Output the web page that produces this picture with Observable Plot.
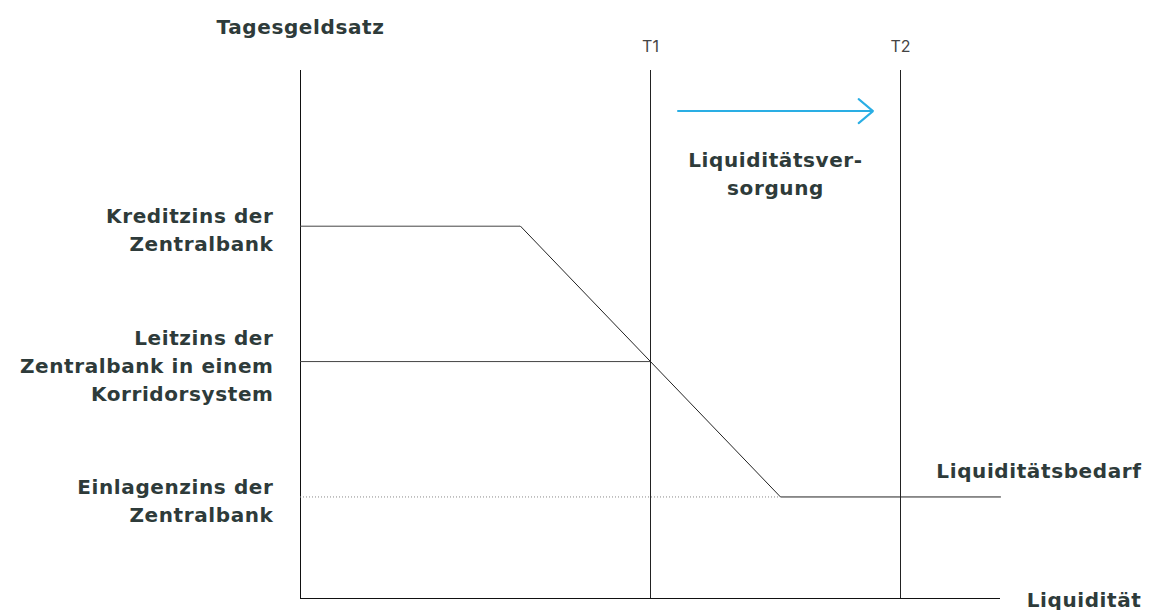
<!DOCTYPE html>
<html>
<head>
<meta charset="utf-8">
<script src="https://cdn.jsdelivr.net/npm/d3@7"></script>
<script src="https://cdn.jsdelivr.net/npm/@observablehq/plot@0.6"></script>
<style>
  html, body { margin: 0; padding: 0; background: #fff; }
  svg { overflow: visible; display: block; }
  .bold-label, .bold-label text { letter-spacing: 0.6px; }
</style>
</head>
<body>
<div id="chart"></div>
<script>
// ---- data ----
const rateLabels = ["Kreditzins der\nZentralbank", "Leitzins der\nZentralbank in einem\nKorridorsystem", "Einlagenzins der\nZentralbank"];
const rateValues = [5.5, 3.5, 1.5];
const rateLineEnd = [4.4, 7, 9.6];        // where each rate line ends on the liquidity axis
const demandX = [4.4, 9.6, 14];
const demandY = [5.5, 1.5, 1.5];
const timeLabels = ["T1", "T2"];
const timeX = [7, 12];
const arrowX = [7.55, 11.45];
const arrowY = 7.2;
const supplyLabel = "Liquiditätsver-\nsorgung";
const supplyLabelPos = [9.5, 6.3];
const yTitle = "Tagesgeldsatz";
const xTitle = "Liquidität";
const demandLabel = "Liquiditätsbedarf";
const xMax = 14, yMax = 7.8;

// ---- derived tables ----
const rates = rateLabels.map((label, i) => ({label, y: rateValues[i], x2: rateLineEnd[i]}));
const demand = demandX.map((x, i) => ({x, y: demandY[i]}));
const times = timeLabels.map((label, i) => ({label, x: timeX[i]}));

const textColor = "#2e3b3a";
const boldFont = "'DejaVu Sans', sans-serif";
const bold = {fontSize: 20, fontWeight: 700, fill: textColor, fontFamily: boldFont, className: "bold-label"};

const chart = Plot.plot({
  width: 1149,
  height: 610,
  marginLeft: 300,
  marginRight: 149,
  marginTop: 70,
  marginBottom: 12,
  x: {domain: [0, xMax], axis: null},
  y: {domain: [0, yMax], axis: null},
  style: {fontFamily: "Inter, sans-serif", background: "#fff"},
  marks: [
    // axes
    Plot.ruleX([0], {y1: 0, y2: yMax, stroke: "#111", strokeWidth: 1}),
    Plot.ruleY([0], {x1: 0, x2: xMax, stroke: "#111", strokeWidth: 1}),
    // T1 / T2 verticals
    Plot.ruleX(times, {x: "x", y1: 0, y2: yMax, stroke: "#222", strokeWidth: 1}),
    Plot.text(times, {x: "x", y: yMax, text: "label", dy: -24, fontSize: 16, fill: "#444", fontWeight: 400}),
    // Kredit and Leitzins horizontals (solid)
    Plot.ruleY(rates.slice(0, 2), {y: "y", x1: 0, x2: "x2", stroke: "#444", strokeWidth: 1}),
    // Einlagenzins dotted
    Plot.ruleY(rates.slice(2), {y: "y", x1: 0, x2: "x2", stroke: "#888", strokeWidth: 1, strokeDasharray: "1,2"}),
    // demand curve
    Plot.line(demand, {x: "x", y: "y", stroke: "#222", strokeWidth: 1}),
    // left labels
    Plot.text(rates, {x: 0, y: "y", text: "label", textAnchor: "end", dx: -27, dy: 2, lineHeight: 1.4, ...bold}),
    // y title
    Plot.text([yTitle], {x: 0, y: yMax, text: d => d, dy: -43, ...bold}),
    // x title
    Plot.text([xTitle], {x: xMax, y: 0, text: d => d, textAnchor: "end", dx: 141, dy: 2, ...bold}),
    // demand label
    Plot.text([demandLabel], {x: xMax, y: demandY[demandY.length - 1], text: d => d, textAnchor: "end", dx: 141, dy: -25, ...bold}),
    // supply arrow
    Plot.arrow([0], {x1: arrowX[0], x2: arrowX[1], y1: arrowY, y2: arrowY, stroke: "#2aaee4", strokeWidth: 2, headLength: 14, headAngle: 80}),
    Plot.text([supplyLabel], {x: supplyLabelPos[0], y: supplyLabelPos[1], text: d => d, lineHeight: 1.4, ...bold})
  ]
});
document.getElementById("chart").appendChild(chart);
</script>
</body>
</html>
